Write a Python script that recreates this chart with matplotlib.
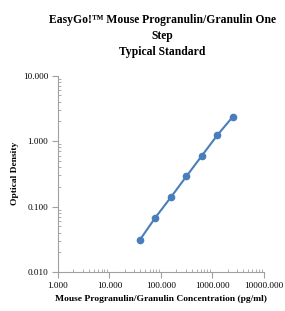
import matplotlib
matplotlib.use("Agg")
import matplotlib.pyplot as plt
from matplotlib.ticker import FixedLocator, FuncFormatter, LogLocator, NullFormatter

conc = [39, 78, 156, 312, 625, 1250, 2500]
od = [0.031, 0.068, 0.139, 0.29, 0.60, 1.24, 2.37]
x_ticks = [1, 10, 100, 1000, 10000]
y_ticks = [0.01, 0.1, 1, 10]

title = "EasyGo!™ Mouse Progranulin/Granulin One\nStep\nTypical Standard"
xlabel = "Mouse Progranulin/Granulin Concentration (pg/ml)"
ylabel = "Optical Density"

plt.rcParams['font.family'] = ['Liberation Serif', 'DejaVu Serif']

fig = plt.figure(figsize=(2.85, 3.11), dpi=100)
ax = fig.add_axes([0.2035, 0.1254, 0.7225, 0.6312])
ax.plot(conc, od, '-o', color='#4a7ebb', lw=1.5, ms=4.5, zorder=3)
ax.set_xscale('log')
ax.set_yscale('log')
ax.set_xlim(1, 10000)
ax.set_ylim(0.01, 10)
ax.xaxis.set_major_locator(FixedLocator(x_ticks))
ax.yaxis.set_major_locator(FixedLocator(y_ticks))
fmt = FuncFormatter(lambda v, p: f"{v:.3f}")
ax.xaxis.set_major_formatter(fmt)
ax.yaxis.set_major_formatter(fmt)
ax.xaxis.set_minor_locator(LogLocator(base=10, subs=range(2, 10)))
ax.yaxis.set_minor_locator(LogLocator(base=10, subs=range(2, 10)))
ax.xaxis.set_minor_formatter(NullFormatter())
ax.yaxis.set_minor_formatter(NullFormatter())
for s in ['top', 'right']:
    ax.spines[s].set_visible(False)
for s in ['left', 'bottom']:
    ax.spines[s].set_color('#a0a0a0')
    ax.spines[s].set_linewidth(0.8)
ax.tick_params(which='major', direction='out', length=4, color='#a0a0a0', labelsize=6.6, pad=3)
ax.tick_params(which='minor', direction='in', length=2, color='#a0a0a0')
ax.set_xlabel(xlabel, fontsize=6.8, fontweight='bold', labelpad=4)
ax.set_ylabel(ylabel, fontsize=6.8, fontweight='bold', labelpad=3)
fig.text(0.57, 0.955, title, ha='center', va='top', fontsize=8.4, fontweight='bold', linespacing=1.45)
fig.savefig('out.png', dpi=100)
